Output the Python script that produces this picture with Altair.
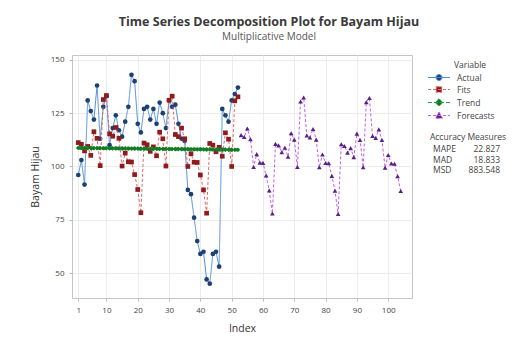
import altair as alt
import pandas as pd

variables = ["Actual", "Fits", "Trend", "Forecasts"]
line_colors = ["#4a8fd6", "#e06a6a", "#22a33a", "#c75ee8"]
marker_colors = ["#1d3f73", "#8e1c1c", "#137a25", "#5a1f86"]
marker_shapes = ["circle", "square", "diamond", "triangle-up"]
line_dashes = [[1, 0], [3, 2], [4, 2], [3, 2]]
line_widths = [1, 1, 3.5, 1]

index_actual = list(range(1, 53))
index_forecast = list(range(53, 105))

actual = [96, 103, 91.5, 131, 126, 122, 138, 113, 128, 133,
          110, 118, 124, 117, 114, 121, 128, 143, 140, 120,
          116, 127, 128, 122, 127, 120, 130, 125, 118, 131,
          128, 129, 120, 113, 112, 89, 87, 76, 65, 59,
          60, 47, 45, 59, 60, 53, 127, 124, 121, 131,
          134, 137]

fits = [111.2, 110.4, 107.3, 109.4, 105.2, 116.3, 113.2, 100.4, 131.4, 133.3,
        115.3, 114.2, 118.3, 113.2, 100.2, 106.3, 102.2, 102.1, 96.2, 89.2,
        78.3, 111.0, 110.2, 107.1, 109.2, 105.0, 116.1, 113.0, 100.2, 131.1,
        133.0, 115.0, 114.0, 118.0, 113.0, 100.0, 106.0, 102.0, 101.9, 96.0,
        89.0, 78.1, 110.8, 110.0, 106.9, 109.0, 104.8, 115.8, 112.8, 100.0,
        130.8, 132.7]

trend = [108.7, 108.68, 108.66, 108.65, 108.63, 108.61, 108.6, 108.58, 108.56, 108.55,
         108.53, 108.51, 108.5, 108.48, 108.46, 108.45, 108.43, 108.41, 108.4, 108.38,
         108.36, 108.35, 108.33, 108.31, 108.3, 108.28, 108.26, 108.25, 108.23, 108.21,
         108.2, 108.18, 108.16, 108.15, 108.13, 108.11, 108.1, 108.08, 108.06, 108.05,
         108.03, 108.01, 108.0, 107.98, 107.96, 107.95, 107.93, 107.91, 107.9, 107.88,
         107.86, 107.85]

forecasts = [114.7, 113.8, 117.8, 112.8, 99.8, 105.8, 101.8, 101.7, 95.8, 88.8,
             77.9, 110.6, 109.8, 106.7, 108.8, 104.6, 115.6, 112.6, 99.8, 130.5,
             132.4, 114.5, 113.6, 117.6, 112.6, 99.6, 105.6, 101.6, 101.5, 95.6,
             88.6, 77.7, 110.4, 109.6, 106.5, 108.6, 104.4, 115.4, 112.4, 99.6,
             130.2, 132.1, 114.3, 113.4, 117.4, 112.4, 99.4, 105.4, 101.4, 101.3,
             95.4, 88.5]

x_ticks = [1, 10, 20, 30, 40, 50, 60, 70, 80, 90, 100]
y_ticks = [50, 75, 100, 125, 150]

measure_names = ["MAPE", "MAD", "MSD"]
measure_values = ["22.827", "18.833", "883.548"]

rows = []
for i, v in zip(index_actual, actual):
    rows.append({"Index": i, "Value": v, "Variable": "Actual"})
for i, v in zip(index_actual, fits):
    rows.append({"Index": i, "Value": v, "Variable": "Fits"})
for i, v in zip(index_actual, trend):
    rows.append({"Index": i, "Value": v, "Variable": "Trend"})
for i, v in zip(index_forecast, forecasts):
    rows.append({"Index": i, "Value": v, "Variable": "Forecasts"})
df = pd.DataFrame(rows)

FONT = "Open Sans"
TXT = "#444"

x_enc = alt.X("Index:Q",
              scale=alt.Scale(domain=[-1, 107.6], nice=False, zero=False),
              axis=alt.Axis(values=x_ticks, title="Index"))
y_enc = alt.Y("Value:Q",
              scale=alt.Scale(domain=[38.3, 152.3], nice=False, zero=False),
              axis=alt.Axis(values=y_ticks, title="Bayam Hijau"))

# legend glyphs: a short line segment with the series marker on it
legend_paths = [
    "M-2.2,0H2.2M0.6,0A0.6,0.6,0,1,1,-0.6,0A0.6,0.6,0,1,1,0.6,0Z",
    "M-2.2,0H2.2M-0.55,-0.55H0.55V0.55H-0.55Z",
    "M-2.2,0H2.2M0,-0.75L0.75,0L0,0.75L-0.75,0Z",
    "M-2.2,0H2.2M0,-0.7L0.7,0.55H-0.7Z",
]

base = alt.Chart(df)

layers = []
draw_order = ["Actual", "Fits", "Forecasts", "Trend"]
for v in draw_order:
    k = variables.index(v)
    sub = base.transform_filter(alt.datum.Variable == v)
    layers.append(sub.mark_line(color=line_colors[k], strokeWidth=line_widths[k],
                                strokeDash=line_dashes[k]).encode(x=x_enc, y=y_enc))
    layers.append(sub.mark_point(filled=True, shape=marker_shapes[k], size=22,
                                 color=marker_colors[k], opacity=1, strokeWidth=0
                                 ).encode(x=x_enc, y=y_enc))

legend_def = alt.Legend(
    title=None, orient="none", legendX=361.5, legendY=17, padding=0,
    labelFont=FONT, labelFontSize=8.5, labelColor=TXT, symbolSize=100,
    symbolOpacity=1, symbolStrokeWidth=1, symbolFillColor="#000000",
    rowPadding=1, labelOffset=12.5)

# invisible layer that only carries the legend
legend_layer = base.mark_point(filled=True, opacity=0, size=100, strokeWidth=1).encode(
    x=x_enc, y=y_enc,
    shape=alt.Shape("Variable:N", scale=alt.Scale(domain=variables, range=legend_paths),
                    legend=legend_def),
    fill=alt.Fill("Variable:N", scale=alt.Scale(domain=variables, range=marker_colors),
                  legend=legend_def),
    stroke=alt.Stroke("Variable:N", scale=alt.Scale(domain=variables, range=line_colors),
                      legend=legend_def),
    strokeDash=alt.StrokeDash("Variable:N", scale=alt.Scale(domain=variables, range=line_dashes),
                              legend=legend_def),
)
layers.insert(0, legend_layer)

text_layers = [
    alt.Chart(pd.DataFrame({"t": ["Variable"]})).mark_text(
        font=FONT, fontSize=8.5, color=TXT, align="center", baseline="middle"
    ).encode(x=alt.value(398), y=alt.value(10), text="t:N"),
    alt.Chart(pd.DataFrame({"t": ["Accuracy Measures"]})).mark_text(
        font=FONT, fontSize=8.5, color=TXT, align="center", baseline="middle"
    ).encode(x=alt.value(396), y=alt.value(82), text="t:N"),
]
for k, (nm, vl) in enumerate(zip(measure_names, measure_values)):
    sub = pd.DataFrame({"name": [nm], "val": [vl]})
    text_layers.append(alt.Chart(sub).mark_text(
        font=FONT, fontSize=8.5, color=TXT, align="left", baseline="middle"
    ).encode(x=alt.value(361), y=alt.value(94 + 10.5 * k), text="name:N"))
    text_layers.append(alt.Chart(sub).mark_text(
        font=FONT, fontSize=8.5, color=TXT, align="right", baseline="middle"
    ).encode(x=alt.value(428), y=alt.value(94 + 10.5 * k), text="val:N"))

chart = alt.layer(*layers, *text_layers).properties(
    width=340, height=243,
    padding={"left": 64, "top": 47, "right": 101, "bottom": 37},
    autosize=alt.AutoSizeParams(type="none"),
    title=alt.TitleParams(
        text="Time Series Decomposition Plot for Bayam Hijau",
        subtitle="Multiplicative Model",
        font=FONT, fontSize=12.5, fontWeight="bold", color="#3a3a3a",
        subtitleFont=FONT, subtitleFontSize=10, subtitleColor="#555",
        anchor="middle", dx=27, offset=13, subtitlePadding=4,
    ),
).configure_view(
    stroke="#c4c4c4", strokeWidth=1
).configure_axis(
    labelFont=FONT, titleFont=FONT, labelFontSize=8, labelColor=TXT,
    titleFontSize=10.5, titleFontWeight="normal", titleColor="#333",
    gridColor="#ececec", gridWidth=1, domain=False,
    tickColor="#bbb", tickSize=3, labelPadding=5,
).configure_axisY(
    titlePadding=10,
).configure_axisX(
    titlePadding=9,
)

chart.save("out.html", embed_options={"renderer": "svg", "actions": False})
